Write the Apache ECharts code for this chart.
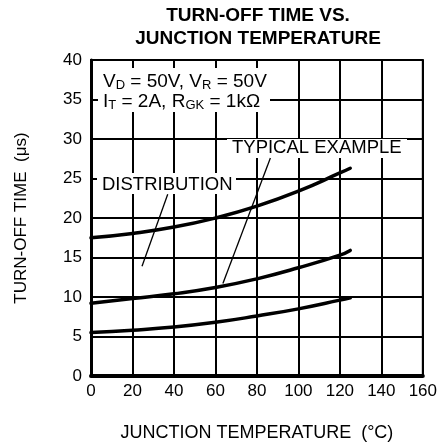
<!DOCTYPE html>
<html><head><meta charset="utf-8">
<script src="https://cdn.jsdelivr.net/npm/echarts@6/dist/echarts.min.js"></script>
<style>html,body{margin:0;padding:0;background:#fff}#c{width:440px;height:447px}</style>
</head><body><div id="c"></div>
<script>
var xTicks = [0, 20, 40, 60, 80, 100, 120, 140, 160];
var yTicks = [0, 5, 10, 15, 20, 25, 30, 35, 40];
var temps = [0, 20, 40, 60, 80, 100, 120, 125];
var upperDist = [17.5, 18.05, 18.85, 20.0, 21.5, 23.4, 25.7, 26.3];
var typical = [9.2, 9.8, 10.4, 11.2, 12.3, 13.7, 15.3, 15.9];
var lowerDist = [5.5, 5.8, 6.2, 6.8, 7.6, 8.5, 9.6, 9.9];
var distPointerT = [37, 24.6];
var distPointerV = [23, 13.9];
var typPointerT = [86.5, 63.6];
var typPointerV = [27.6, 11.7];

function pairs(xs, ys){ return xs.map(function(x,i){ return [x, ys[i]]; }); }
var FONT = '"Liberation Sans", Arial, Helvetica, sans-serif';

var chart = echarts.init(document.getElementById('c'), null, {renderer:'canvas'});
function curve(vals){
  return {type:'line', data:pairs(temps, vals), smooth:0.5, showSymbol:false, symbol:'none',
    lineStyle:{color:'#000', width:3.5, cap:'round'}, z:100, silent:true};
}
function pointer(t, v){
  return {type:'line', data:pairs(t, v), showSymbol:false, symbol:'none',
    lineStyle:{color:'#000', width:1.3}, z:100, silent:true};
}
chart.setOption({
  animation:false,
  backgroundColor:'#fff',
  grid:{left:91, right:17, top:60, bottom:69, show:true, borderColor:'#000', borderWidth:2, backgroundColor:'transparent'},
  xAxis:{type:'value', min:xTicks[0], max:xTicks[xTicks.length-1], interval:20,
    name:'JUNCTION TEMPERATURE  (°C)', nameLocation:'middle', nameGap:48,
    nameTextStyle:{fontFamily:FONT, fontSize:18, color:'#000'},
    axisLine:{show:true, lineStyle:{color:'#000', width:4}},
    axisTick:{show:false},
    axisLabel:{fontFamily:FONT, fontSize:17, color:'#000', margin:7},
    splitLine:{show:true, lineStyle:{color:'#000', width:2}}},
  yAxis:{type:'value', min:yTicks[0], max:yTicks[yTicks.length-1], interval:5,
    name:'TURN-OFF TIME  (μs)', nameLocation:'middle', nameGap:61, nameRotate:90,
    nameTextStyle:{fontFamily:FONT, fontSize:17, color:'#000'},
    axisLine:{show:true, lineStyle:{color:'#000', width:3}},
    axisTick:{show:false},
    axisLabel:{fontFamily:FONT, fontSize:17, color:'#000', margin:9},
    splitLine:{show:true, lineStyle:{color:'#000', width:2}}},
  series:[curve(upperDist), curve(typical), curve(lowerDist),
    pointer(distPointerT, distPointerV), pointer(typPointerT, typPointerV)],
  graphic:[
    {type:'text', z:50, x:258, y:4, style:{text:'TURN-OFF TIME VS.\nJUNCTION TEMPERATURE',
      fontFamily:FONT, fontWeight:'bold', fontSize:19, fill:'#000', align:'center', verticalAlign:'top', lineHeight:23}},
    {type:'rect', z:50, shape:{x:98, y:68, width:172, height:44}, style:{fill:'#fff'}},
    {type:'text', z:51, x:103, y:72, style:{
      text:'V{s|D} = 50V, V{s|R} = 50V\nI{s|T} = 2A, R{s|GK} = 1kΩ',
      fontFamily:FONT, fontSize:19, fill:'#000', lineHeight:20, verticalAlign:'top',
      rich:{s:{fontFamily:FONT, fontSize:13, fill:'#000', lineHeight:20, verticalAlign:'bottom'}}}},
    {type:'rect', z:50, shape:{x:227, y:139, width:180, height:19}, style:{fill:'#fff'}},
    {type:'text', z:51, x:232, y:148, style:{text:'TYPICAL EXAMPLE', fontFamily:FONT, fontSize:18.5, fill:'#000', verticalAlign:'middle'}},
    {type:'rect', z:50, shape:{x:97, y:173, width:139, height:21}, style:{fill:'#fff'}},
    {type:'text', z:51, x:102, y:185, style:{text:'DISTRIBUTION', fontFamily:FONT, fontSize:18.5, fill:'#000', verticalAlign:'middle'}}
  ]
});
</script></body></html>
